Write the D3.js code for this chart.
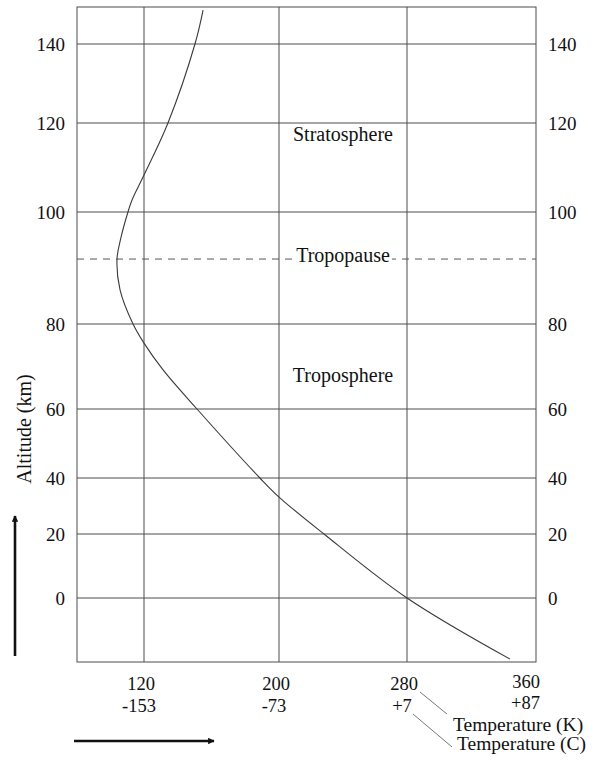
<!DOCTYPE html>
<html>
<head>
<meta charset="utf-8">
<script src="https://cdn.jsdelivr.net/npm/d3@7"></script>
<style>
  body { margin: 0; background: #fff; }
  svg { display: block; font-family: "Liberation Serif", "DejaVu Serif", serif; }
</style>
</head>
<body>
<svg width="596" height="765"></svg>
<script>
// altitude profile (km, K)
var altitudes    = [148.6, 140, 120, 108.3, 102.7, 100, 95.5, 91.6, 86.1, 80, 75.5, 69.2, 60, 40, 33.2, 20, 0, -19.1];
var temperatures = [155, 150.2, 134.2, 120, 112.9, 110.5, 106.4, 104, 105.8, 113.5, 120, 131.3, 151.4, 188.7, 200, 228.1, 280, 343.9];

var altTicks = [0, 20, 40, 60, 80, 100, 120, 140];
var kelvinTicks = [120, 200, 280, 360];
var celsiusLabels = ["-153", "-73", "+7", "+87"];
var tropopauseAlt = 91.6;
var regionLabels = [
  { name: "Stratosphere", alt: 116.6 },
  { name: "Tropopause", alt: tropopauseAlt },
  { name: "Troposphere", alt: 67 }
];

var svg = d3.select("svg"),
    plotLeft = 77, plotRight = 536, plotTop = 7, plotBottom = 662;

// the printed figure has uneven grid spacing, so the scales are piecewise
var x = d3.scaleLinear().domain(kelvinTicks).range([144, 279, 407, 536]);
var y = d3.scaleLinear().domain(altTicks).range([598, 534, 478, 409, 324, 212, 123, 44]);

var g = svg.append("g");

// grid
g.selectAll(".hgrid")
  .data(altTicks)
  .enter().append("line")
    .attr("x1", plotLeft).attr("x2", plotRight)
    .attr("y1", function(d) { return y(d); })
    .attr("y2", function(d) { return y(d); })
    .attr("stroke", "#4d4d4d").attr("stroke-width", 1);

g.selectAll(".vgrid")
  .data(kelvinTicks.slice(0, -1))
  .enter().append("line")
    .attr("x1", function(d) { return x(d); })
    .attr("x2", function(d) { return x(d); })
    .attr("y1", plotTop).attr("y2", plotBottom)
    .attr("stroke", "#4d4d4d").attr("stroke-width", 1);

g.append("rect")
  .attr("x", plotLeft).attr("y", plotTop)
  .attr("width", plotRight - plotLeft).attr("height", plotBottom - plotTop)
  .attr("fill", "none").attr("stroke", "#4d4d4d").attr("stroke-width", 1);

// tropopause
g.append("line")
  .attr("x1", plotLeft).attr("x2", plotRight)
  .attr("y1", y(tropopauseAlt)).attr("y2", y(tropopauseAlt))
  .attr("stroke", "#555").attr("stroke-width", 1)
  .attr("stroke-dasharray", "7,6");

// temperature profile
var line = d3.line()
  .x(function(d, i) { return x(temperatures[i]); })
  .y(function(d) { return y(d); })
  .curve(d3.curveCatmullRom);

g.append("path")
  .attr("d", line(altitudes))
  .attr("fill", "none")
  .attr("stroke", "#3a3a3a")
  .attr("stroke-width", 1.1);

// altitude axes
var yLeft = svg.append("g")
  .attr("transform", "translate(" + plotLeft + ",0)")
  .call(d3.axisLeft(y).tickValues(altTicks).tickSize(0).tickPadding(12));
var yRight = svg.append("g")
  .attr("transform", "translate(" + plotRight + ",0)")
  .call(d3.axisRight(y).tickValues(altTicks).tickSize(0).tickPadding(12));

[yLeft, yRight].forEach(function(ax) {
  ax.select(".domain").remove();
  ax.selectAll("text")
    .attr("font-family", "Liberation Serif")
    .attr("font-size", 19)
    .attr("fill", "#111");
});

svg.append("text")
  .attr("transform", "translate(31,429) rotate(-90)")
  .attr("text-anchor", "middle")
  .attr("font-size", 20)
  .attr("fill", "#111")
  .text("Altitude (km)");

// temperature labels
var last = kelvinTicks.length - 1;
var xl = svg.append("g").attr("font-size", 18.5).attr("fill", "#111");
xl.selectAll(".k")
  .data(kelvinTicks)
  .enter().append("text")
    .attr("x", function(d, i) { return i === last ? x(d) + 4 : x(d) - 3; })
    .attr("y", function(d, i) { return i === last ? 688 : 690; })
    .attr("text-anchor", function(d, i) { return i === last ? "end" : "middle"; })
    .text(function(d) { return d; });
xl.selectAll(".c")
  .data(celsiusLabels)
  .enter().append("text")
    .attr("x", function(d, i) { return i === last ? x(kelvinTicks[i]) + 4 : x(kelvinTicks[i]) - 5; })
    .attr("y", function(d, i) { return i === last ? 709 : 712; })
    .attr("text-anchor", function(d, i) { return i === last ? "end" : "middle"; })
    .text(function(d) { return d; });

svg.append("text").attr("x", 453).attr("y", 730.5)
  .attr("font-size", 19.5).attr("fill", "#111").text("Temperature (K)");
svg.append("text").attr("x", 457).attr("y", 750)
  .attr("font-size", 19.5).attr("fill", "#111").text("Temperature (C)");

// leader lines from the 280 / +7 labels
svg.append("line").attr("x1", 420).attr("y1", 692).attr("x2", 447).attr("y2", 714)
  .attr("stroke", "#777").attr("stroke-width", 1);
svg.append("line").attr("x1", 413).attr("y1", 714).attr("x2", 452).attr("y2", 747)
  .attr("stroke", "#777").attr("stroke-width", 1);

// region labels (white band masks the dashes behind "Tropopause")
var masks = svg.append("g");
regionLabels.forEach(function(r) {
  var t = svg.append("text")
    .attr("x", 343)
    .attr("y", y(r.alt) + 3)
    .attr("text-anchor", "middle")
    .attr("font-size", 20)
    .attr("fill", "#111")
    .text(r.name);
  if (r.name === "Tropopause") {
    var b = t.node().getBBox();
    masks.append("rect")
      .attr("x", b.x - 2).attr("y", y(r.alt) - 3)
      .attr("width", b.width + 4).attr("height", 6)
      .attr("fill", "#fff");
  }
});

// direction arrows
var defs = svg.append("defs");
defs.append("marker")
  .attr("id", "head")
  .attr("viewBox", "0 0 10 10")
  .attr("refX", 9).attr("refY", 5)
  .attr("markerWidth", 4).attr("markerHeight", 2.5)
  .attr("orient", "auto")
  .append("path").attr("d", "M0,0L10,5L0,10Z").attr("fill", "#111");

svg.append("line").attr("x1", 15).attr("y1", 656).attr("x2", 15).attr("y2", 516)
  .attr("stroke", "#111").attr("stroke-width", 2.6).attr("marker-end", "url(#head)");
svg.append("line").attr("x1", 74).attr("y1", 741).attr("x2", 214).attr("y2", 741)
  .attr("stroke", "#111").attr("stroke-width", 2.6).attr("marker-end", "url(#head)");
</script>
</body>
</html>
